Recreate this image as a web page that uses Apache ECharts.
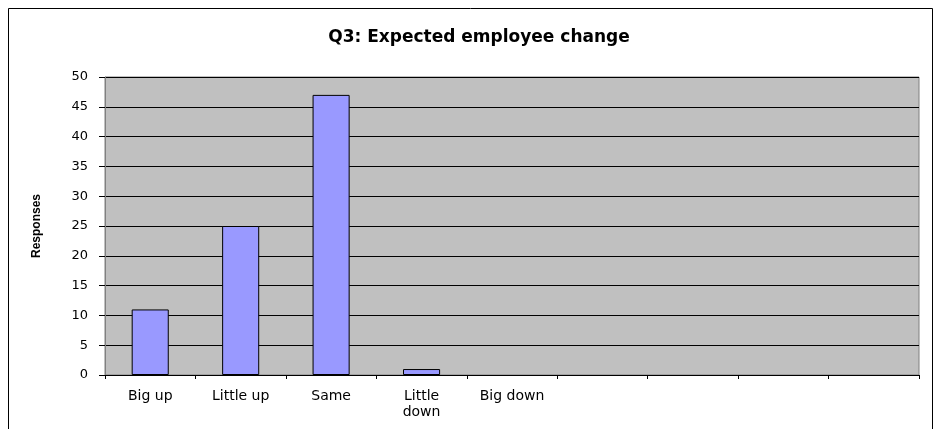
<!DOCTYPE html>
<html>
<head>
<meta charset="utf-8">
<script src="https://cdn.jsdelivr.net/npm/echarts@6/dist/echarts.min.js"></script>
<style>
  html, body { margin: 0; padding: 0; background: #fff; }
  #chart { width: 935px; height: 429px; }
</style>
</head>
<body>
<div id="chart"></div>
<script>
// Survey answers for Q3, one bar per answer; the trailing empty slots keep the axis width.
const categories = ['Big up', 'Little up', 'Same', 'Little down', 'Big down', '', '', '', ''];
const responses = [11, 25, 47, 1, 0, null, null, null, null];
const yTicks = { min: 0, max: 50, interval: 5 };

// A zero count draws no outline, just like an empty bar.
const barData = responses.map(v => (v === 0 ? { value: 0, itemStyle: { borderWidth: 0 } } : v));

const chart = echarts.init(document.getElementById('chart'), null, { renderer: 'canvas' });

chart.setOption({
  animation: false,
  backgroundColor: '#ffffff',
  title: {
    text: 'Q3: Expected employee change',
    left: 474,
    top: 24,
    textAlign: 'center',
    textStyle: { fontFamily: 'DejaVu Sans', fontSize: 17, fontWeight: 'bold', color: '#000' }
  },
  graphic: [{
    type: 'rect',
    shape: { x: 8.5, y: 8.5, width: 924, height: 440 },
    style: { fill: 'none', stroke: '#000', lineWidth: 1 },
    silent: true
  }],
  grid: {
    left: 105, right: 16, top: 77, bottom: 54,
    show: true,
    backgroundColor: '#C0C0C0',
    borderColor: '#808080',
    borderWidth: 1
  },
  xAxis: {
    type: 'category',
    data: categories,
    boundaryGap: true,
    axisLine: { lineStyle: { color: '#000', width: 1 } },
    axisTick: { show: true, interval: 0, length: 4, lineStyle: { color: '#000' } },
    axisLabel: {
      interval: 0,
      margin: 13,
      color: '#000',
      fontFamily: 'DejaVu Sans',
      fontSize: 14,
      lineHeight: 16,
      formatter: v => (v.length > 10 ? v.replace(' ', '\n') : v)
    }
  },
  yAxis: {
    type: 'value',
    min: yTicks.min,
    max: yTicks.max,
    interval: yTicks.interval,
    name: 'Responses',
    nameLocation: 'middle',
    nameRotate: 90,
    nameGap: 62,
    nameTextStyle: { fontFamily: 'Liberation Sans', fontSize: 12, fontWeight: 'bold', color: '#000' },
    axisLine: { show: true, lineStyle: { color: '#808080', width: 1 } },
    axisTick: { show: true, length: 6, lineStyle: { color: '#000' } },
    axisLabel: { margin: 17, color: '#000', fontFamily: 'DejaVu Sans', fontSize: 13 },
    splitLine: { show: true, lineStyle: { color: '#000', width: 1 } }
  },
  series: [{
    type: 'bar',
    data: barData,
    barWidth: '41%',
    itemStyle: { color: '#9999FF', borderColor: '#000', borderWidth: 1 }
  }]
});
</script>
</body>
</html>
